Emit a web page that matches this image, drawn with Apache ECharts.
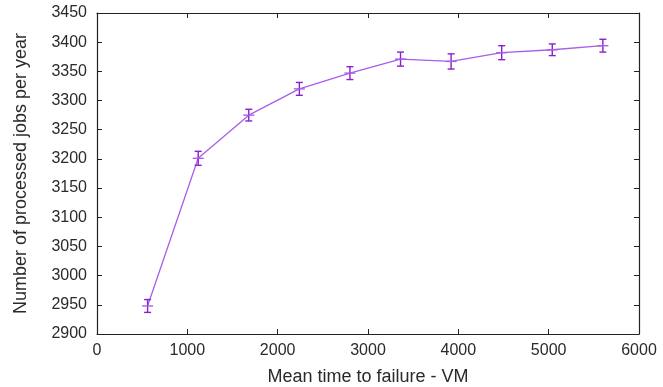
<!DOCTYPE html>
<html>
<head>
<meta charset="utf-8">
<script src="https://cdn.jsdelivr.net/npm/echarts@6/dist/echarts.min.js"></script>
<style>
  html, body { margin: 0; padding: 0; background: #fff; }
  #chart { width: 663px; height: 387px; }
</style>
</head>
<body>
<div id="chart"></div>
<script>
// Mean time to failure of a VM vs. processed jobs per year, with error bars
const mttf = [560, 1120, 1680, 2240, 2800, 3360, 3920, 4480, 5040, 5600];
const jobs = [2948, 3201, 3275, 3320, 3347, 3371, 3367, 3382, 3387, 3394];
const errs = [11, 12, 10, 11, 11, 12, 13, 12, 10, 11];

const xTicks = [0, 1000, 2000, 3000, 4000, 5000, 6000];
const yTicks = [2900, 2950, 3000, 3050, 3100, 3150, 3200, 3250, 3300, 3350, 3400, 3450];

const lineData = mttf.map((x, i) => [x, jobs[i]]);
const errData = mttf.map((x, i) => [x, jobs[i], jobs[i] - errs[i], jobs[i] + errs[i]]);

const FONT = 'Liberation Sans, Arial, sans-serif';
const TEXT = '#2a2a2a';
const AXIS = '#222';
const ERR = '#8a1fd0';
const LINE = '#a95ee8';

const tickStyle = { show: true, inside: true, length: 5, lineStyle: { color: AXIS, width: 1 } };
const plain = v => String(v);

function axisX(pos, showLabels) {
  return {
    type: 'value', position: pos,
    min: xTicks[0], max: xTicks[xTicks.length - 1], interval: 1000,
    axisLine: { show: true, onZero: false, lineStyle: { color: AXIS, width: 1.2 } },
    axisTick: tickStyle,
    splitLine: { show: false },
    axisLabel: showLabels ? { show: true, formatter: plain, color: TEXT, fontFamily: FONT, fontSize: 16, margin: 9 } : { show: false },
    name: showLabels ? 'Mean time to failure - VM' : '',
    nameLocation: 'middle', nameGap: 34,
    nameTextStyle: { color: TEXT, fontFamily: FONT, fontSize: 18 }
  };
}
function axisY(pos, showLabels) {
  return {
    type: 'value', position: pos,
    min: yTicks[0], max: yTicks[yTicks.length - 1], interval: 50,
    axisLine: { show: true, onZero: false, lineStyle: { color: AXIS, width: 1.2 } },
    axisTick: tickStyle,
    splitLine: { show: false },
    axisLabel: showLabels ? { show: true, formatter: plain, color: TEXT, fontFamily: FONT, fontSize: 16, margin: 10 } : { show: false },
    name: showLabels ? 'Number of processed jobs per year' : '',
    nameLocation: 'middle', nameGap: 67,
    nameTextStyle: { color: TEXT, fontFamily: FONT, fontSize: 18 }
  };
}

const chart = echarts.init(document.getElementById('chart'), null, { renderer: 'canvas' });
chart.setOption({
  animation: false,
  backgroundColor: '#fff',
  grid: { left: 97, right: 24, top: 13, bottom: 53, outerBoundsMode: 'none', containLabel: false },
  xAxis: [axisX('bottom', true), axisX('top', false)],
  yAxis: [axisY('left', true), axisY('right', false)],
  series: [
    {
      type: 'line', data: lineData, xAxisIndex: 0, yAxisIndex: 0,
      symbol: 'none', lineStyle: { color: LINE, width: 1.3 }, z: 2
    },
    {
      type: 'custom', data: errData, xAxisIndex: 0, yAxisIndex: 0, z: 3,
      renderItem: function (params, api) {
        const x = api.value(0);
        const c = api.coord([x, api.value(1)]);
        const lo = api.coord([x, api.value(2)]);
        const hi = api.coord([x, api.value(3)]);
        const cap = 3.5, mk = 5.5;
        const st = { stroke: ERR, lineWidth: 1.4 };
        return {
          type: 'group',
          children: [
            { type: 'line', shape: { x1: lo[0], y1: lo[1], x2: hi[0], y2: hi[1] }, style: st },
            { type: 'line', shape: { x1: lo[0] - cap, y1: lo[1], x2: lo[0] + cap, y2: lo[1] }, style: st },
            { type: 'line', shape: { x1: hi[0] - cap, y1: hi[1], x2: hi[0] + cap, y2: hi[1] }, style: st },
            { type: 'line', shape: { x1: c[0] - mk, y1: c[1], x2: c[0] + mk, y2: c[1] }, style: { stroke: LINE, lineWidth: 1.4 } }
          ]
        };
      }
    }
  ]
});
</script>
</body>
</html>
